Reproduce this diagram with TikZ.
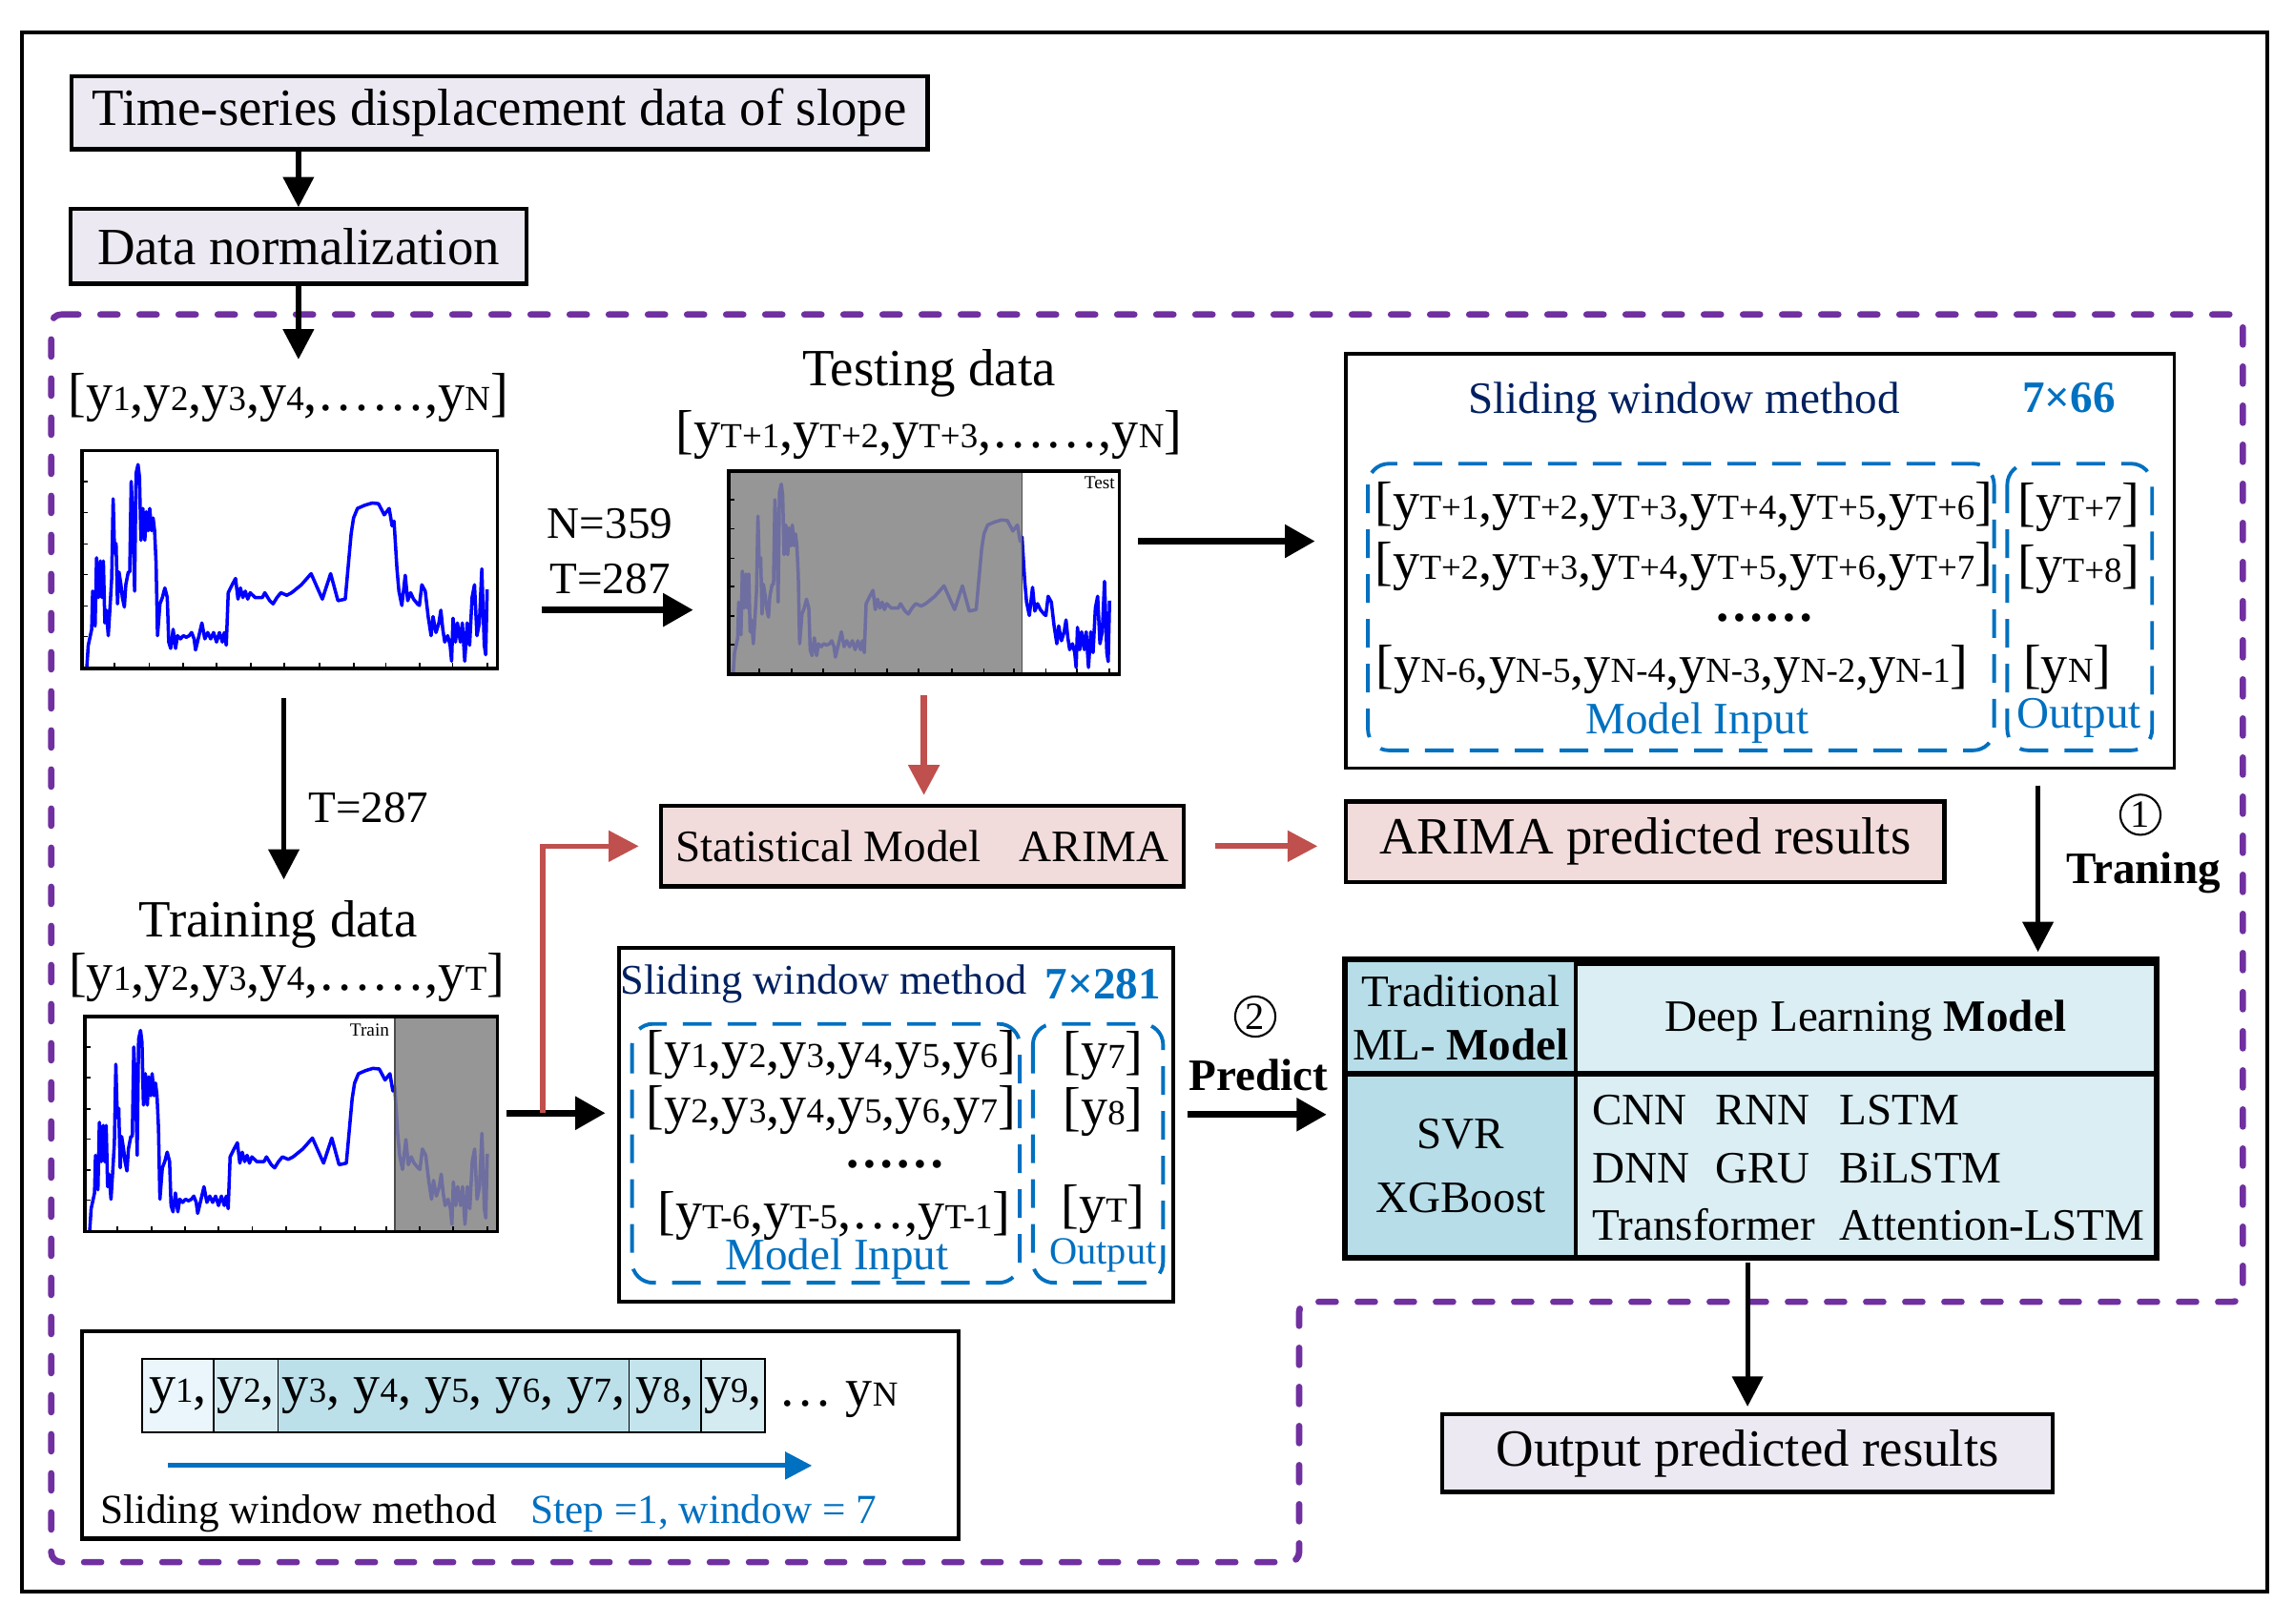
\documentclass[tikz,border=0pt]{standalone}
\usepackage{fontspec}
\setmainfont{Liberation Serif}
\usetikzlibrary{arrows.meta,calc}
\definecolor{lav}{RGB}{236,233,242}
\definecolor{pinkb}{RGB}{242,220,219}
\definecolor{redar}{RGB}{192,80,77}
\definecolor{purp}{RGB}{112,48,160}
\definecolor{blu}{RGB}{0,112,192}
\definecolor{navy}{RGB}{0,32,96}
\definecolor{tabL}{RGB}{183,221,232}
\definecolor{tabR}{RGB}{218,238,243}
\definecolor{cA}{RGB}{234,246,252}
\definecolor{cB}{RGB}{213,235,242}
\definecolor{cC}{RGB}{188,224,234}
\definecolor{cD}{RGB}{195,228,236}
\definecolor{grayfill}{RGB}{150,150,150}
\definecolor{grayline}{RGB}{110,110,160}
\definecolor{plotblue}{RGB}{0,0,255}
\newcommand\fA{\fontsize{15.6}{18}\selectfont}
\newcommand\fB{\fontsize{13.4}{16}\selectfont}
\newcommand\fC{\fontsize{12.3}{14}\selectfont}
\newcommand\fS{\fontsize{16}{18}\selectfont}
\newcommand\ys[1]{y{\fontsize{10.5}{12}\selectfont #1}}
\newcommand\pxu{0.15338mm}
\newcommand\dispcurve{(180,900) -- (183,830) -- (190,780) -- (192,660) -- (197,770) -- (200,555) -- (204,680) -- (208,565) -- (211,680) -- (214,565) -- (217,760) -- (220,720) -- (224,800) -- (228,700) -- (231,620) -- (234,370) -- (237,540) -- (240,510) -- (243,700) -- (246,600) -- (250,640) -- (253,680) -- (257,710) -- (260,640) -- (265,600) -- (268,600) -- (271,315) -- (275,450) -- (278,660) -- (281,290) -- (285,262) -- (288,300) -- (291,500) -- (295,400) -- (299,500) -- (302,410) -- (306,470) -- (309,400) -- (313,470) -- (316,430) -- (319,470) -- (322,570) -- (325,800) -- (330,700) -- (335,680) -- (340,650) -- (345,680) -- (348,820) -- (352,840) -- (357,780) -- (362,840) -- (366,800) -- (372,810) -- (378,800) -- (384,805) -- (390,800) -- (395,790) -- (400,810) -- (403,845) -- (410,800) -- (416,760) -- (422,810) -- (428,790) -- (434,810) -- (440,790) -- (446,820) -- (452,790) -- (458,820) -- (462,790) -- (466,830) -- (470,665) -- (478,640) -- (485,620) -- (490,685) -- (495,650) -- (500,680) -- (505,660) -- (510,685) -- (515,665) -- (525,680) -- (540,680) -- (545,665) -- (555,690) -- (562,700) -- (570,680) -- (578,665) -- (590,673) -- (600,665) -- (620,640) -- (640,605) -- (650,640) -- (663,685) -- (680,605) -- (695,690) -- (710,685) -- (717,565) -- (722,480) -- (727,430) -- (735,400) -- (750,390) -- (765,383) -- (778,385) -- (790,420) -- (800,400) -- (806,455) -- (810,440) -- (816,590) -- (820,660) -- (826,705) -- (833,610) -- (838,690) -- (844,665) -- (850,685) -- (858,700) -- (862,705) -- (867,640) -- (874,660) -- (880,740) -- (886,800) -- (890,740) -- (896,790) -- (902,760) -- (906,720) -- (910,780) -- (914,820) -- (920,800) -- (925,830) -- (928,880) -- (931,745) -- (936,820) -- (940,760) -- (946,820) -- (950,760) -- (955,880) -- (960,760) -- (965,830) -- (970,680) -- (975,640) -- (980,800) -- (985,760) -- (990,590) -- (995,830) -- (998,860) -- (1001,655)}
\newcommand\dispticks{%
  \foreach \t in {315,413,512,608,707,803} \draw[line width=0.5pt] (170,\t) -- (182,\t);
  \foreach \t in {237,308,377,446,516,585,657,727,793,862,930,1001} \draw[line width=0.5pt] (\t,903) -- (\t,885);}
\begin{document}
\begin{tikzpicture}[x=\pxu, y=-\pxu,
  sz/.style 2 args={minimum width=#1*\pxu, minimum height=#2*\pxu},
  box/.style={draw, line width=1.2pt, inner sep=0pt, font=\fA},
  lavbox/.style={box, fill=lav},
  pinkbox/.style={box, fill=pinkb},
  frm/.style={draw, line width=1pt, inner sep=0pt},
  lbl/.style={inner sep=0pt, font=\fA},
  seq/.style={inner sep=0pt, font=\fS},
  dots/.style={inner sep=0pt, font=\fontsize{15}{15}\selectfont\bfseries, text height=3pt, text depth=0pt},
  sub/.style={inner sep=0pt, font=\fB},
  ttl/.style={inner sep=0pt, font=\fB, text=navy},
  dim/.style={inner sep=0pt, font=\fB\bfseries, text=blu},
  arr/.style={line width=1.5pt, -{Triangle[length=9pt,width=9pt]}},
  arrthick/.style={line width=2.1pt, -{Triangle[length=9pt,width=9.5pt]}},
  redarr/.style={draw=redar, line width=1.8pt, -{Triangle[length=9pt,width=9pt]}},
  bluarr/.style={draw=blu, line width=1.4pt, -{Triangle[length=8pt,width=8pt]}},
  purpdash/.style={draw=purp, line width=1.9pt, line cap=round, dash pattern=on 1.8mm off 2.3mm},
  bdash/.style={draw=blu, line width=1.1pt, dash pattern=on 3mm off 1.7mm, rounded corners=2.2mm},
  curve/.style={line width=1pt, line join=round},
  cell/.style={draw, line width=0.5pt, inner sep=0pt, font=\fS, minimum height=50*\pxu},
  tcell/.style={draw, line width=1pt, inner sep=0pt, font=\fB, align=center},
  circ/.style={circle, draw, line width=0.6pt, minimum size=12pt, inner sep=0pt, font=\fontsize{11.5}{12}\selectfont}
]
\useasboundingbox (0,0) rectangle (1568,1109.7);
% outer frame
\draw[line width=1.1pt] (15,22) rectangle (1550,1088);
% purple dashed region
\draw[purpdash, rounded corners=3pt] (35,215) -- (1533,215) -- (1533,890) -- (888,890) -- (888,1068) -- (35,1068) -- cycle;

% top boxes
\node[lavbox, sz={585}{50}] (ts) at (341.5,77) {Time-series displacement data of slope};
\node[lavbox, sz={312}{51}] (dn) at (204,168.5) {Data normalization};
\node[seq] (seqN) at (197,272) {[\ys1,\ys2,\ys3,\ys4,……,\ys{N}]};

% plot 1
\begin{scope}[shift={(56,308)}, xscale=284/852, yscale=149/685, shift={(-170,-218)}]
  \draw[curve, plotblue] \dispcurve;
  \dispticks
\end{scope}
\node[frm, sz={284}{149}] (p1) at (198,382.5) {};

% plot 2 (test)
\begin{scope}[shift={(498,322)}, xscale=267/852, yscale=139/685, shift={(-170,-218)}]
  \fill[grayfill] (170,218) rectangle (810,903);
  \begin{scope}\clip (170,218) rectangle (810,903); \draw[curve, grayline] \dispcurve; \end{scope}
  \begin{scope}\clip (810,218) rectangle (1022,903); \draw[curve, plotblue] \dispcurve; \end{scope}
  \draw[line width=0.5pt, black!70] (810,218) -- (810,903);
  \dispticks
  \node[anchor=north east, inner sep=0pt, font=\fontsize{5.5}{6}\selectfont] (testlbl) at (1014,236) {Test};
\end{scope}
\node[frm, sz={267}{139}] (p2) at (631.5,391.5) {};

% plot 3 (train)
\begin{scope}[shift={(58,695)}, xscale=282/852, yscale=147/685, shift={(-170,-218)}]
  \fill[grayfill] (810,218) rectangle (1022,903);
  \begin{scope}\clip (810,218) rectangle (1022,903); \draw[curve, grayline] \dispcurve; \end{scope}
  \begin{scope}\clip (170,218) rectangle (810,903); \draw[curve, plotblue] \dispcurve; \end{scope}
  \draw[line width=0.5pt, black!70] (810,218) -- (810,903);
  \dispticks
  \node[anchor=north east, inner sep=0pt, font=\fontsize{5.5}{6}\selectfont] (trainlbl) at (800,240) {Train};
\end{scope}
\node[frm, sz={282}{147}] (p3) at (199,768.5) {};

% labels
\node[sub] (nlbl) at (417,358) {N=359};
\node[sub] (tlbl) at (417,396) {T=287};
\node[lbl] (testdata) at (635,255) {Testing data};
\node[seq] (seqT) at (635,297) {[\ys{T+1},\ys{T+2},\ys{T+3},……,\ys{N}]};
\node[sub] (t2lbl) at (252,552) {T=287};
\node[lbl] (traindata) at (190,632) {Training data};
\node[seq] (seqTr) at (196,668) {[\ys1,\ys2,\ys3,\ys4,……,\ys{T}]};

% sliding window box 1
\node[frm, sz={566}{283}] (sw1) at (1203,383.5) {};
\node[ttl] (ttl1) at (1151,275) {Sliding window method};
\node[dim] (dim1) at (1414,272) {7×66};
\draw[bdash] (935,317) rectangle (1363,513);
\draw[bdash] (1372,317) rectangle (1471,513);
\node[seq] (r1a) at (1151,346) {[\ys{T+1},\ys{T+2},\ys{T+3},\ys{T+4},\ys{T+5},\ys{T+6}]};
\node[seq] (r1b) at (1151,387) {[\ys{T+2},\ys{T+3},\ys{T+4},\ys{T+5},\ys{T+6},\ys{T+7}]};
\node[dots] (r1c) at (1206,421) {……};
\node[seq] (r1d) at (1143,458) {[\ys{N-6},\ys{N-5},\ys{N-4},\ys{N-3},\ys{N-2},\ys{N-1}]};
\node[sub, text=blu] (mi1) at (1160,494) {Model Input};
\node[seq] (o1a) at (1421,347) {[\ys{T+7}]};
\node[seq] (o1b) at (1421,389) {[\ys{T+8}]};
\node[seq] (o1d) at (1413,458) {[\ys{N}]};
\node[sub, text=blu] (oo1) at (1421,491) {Output};

% statistical model and ARIMA
\node[pinkbox, sz={357}{55}, font=\fB] (stat) at (630.5,578.5) {Statistical Model\hspace{0.85em}ARIMA};
\node[pinkbox, sz={409}{55}] (arima) at (1124.5,575.5) {ARIMA predicted results};

% sliding window box 2
\node[frm, sz={379}{242}] (sw2) at (612.5,769) {};
\node[ttl, font=\fontsize{12.6}{15}\selectfont] (ttl2) at (563,673) {Sliding window method};
\node[dim] (dim2) at (754,673) {7×281};
\draw[bdash] (432,700) rectangle (697,877);
\draw[bdash] (706,700) rectangle (795,877);
\node[seq] (r2a) at (568,721) {[\ys1,\ys2,\ys3,\ys4,\ys5,\ys6]};
\node[seq] (r2b) at (568,759) {[\ys2,\ys3,\ys4,\ys5,\ys6,\ys7]};
\node[dots] (r2c) at (612,795) {……};
\node[seq] (r2d) at (570,831) {[\ys{T-6},\ys{T-5},…,\ys{T-1}]};
\node[sub, text=blu] (mi2) at (572,861) {Model Input};
\node[seq] (o2a) at (754,722) {[\ys7]};
\node[seq] (o2b) at (754,760) {[\ys8]};
\node[seq] (o2d) at (754,827) {[\ys{T}]};
\node[inner sep=0pt, font=\fontsize{11.5}{13}\selectfont, text=blu] (oo2) at (754,858) {Output};

% model table
\node[tcell, fill=tabL, sz={157}{78}, font=\fontsize{13.4}{16}\selectfont] (tl) at (998.5,696) {Traditional\\ML- \textbf{Model}};
\node[tcell, fill=tabR, sz={396}{78}] (tr) at (1275,698) {Deep Learning \textbf{Model}};
\node[tcell, fill=tabL, sz={157}{124}, font=\fontsize{13.4}{19}\selectfont] (bl) at (998.5,797) {SVR\\XGBoost};
\node[tcell, fill=tabR, sz={396}{124}] (br) at (1275,797) {};
\node[anchor=west, inner sep=0pt, align=left, font=\fontsize{13.4}{17.2}\selectfont] (brtxt) at (1088,798.5)
  {\makebox[12.88mm][l]{CNN}\makebox[13.04mm][l]{RNN}LSTM\\
   \makebox[12.88mm][l]{DNN}\makebox[13.04mm][l]{GRU}BiLSTM\\
   \makebox[25.92mm][l]{Transformer}Attention-LSTM};
\draw[line width=1.5pt] (tl.north west) rectangle (br.south east);
\draw[line width=1.5pt] (bl.north west) -- (br.north east);

% output
\node[lavbox, sz={417}{53}] (out) at (1194.5,993.5) {Output predicted results};

% step labels
\node[circ] (c1) at (1463,557) {1};
\node[inner sep=0pt, font=\fB\bfseries] (traning) at (1465,597) {Traning};
\node[circ] (c2) at (858,695) {2};
\node[inner sep=0pt, font=\fB\bfseries] (predict) at (860,735) {Predict};

% bottom-left sliding window illustration
\node[frm, line width=1.2pt, sz={599}{142}] (sb) at (355.5,981) {};
\node[cell, fill=cA, minimum width=49*\pxu] (k1) at (121.5,954) {\ys1,};
\node[cell, fill=cB, minimum width=44*\pxu] (k2) at (168,954) {\ys2,};
\node[cell, fill=cC, minimum width=240*\pxu] (k3) at (310,954) {\ys3, \ys4, \ys5, \ys6, \ys7,};
\node[cell, fill=cD, minimum width=49*\pxu] (k4) at (454.5,954) {\ys8,};
\node[cell, fill=cB, minimum width=44*\pxu] (k5) at (501,954) {\ys9,};
\node[seq] (kN) at (573,957) {… \ys{N}};
\coordinate (s1) at (115,1002);
\coordinate (s2) at (555,1002);
\draw[bluarr] (s1) -- (s2);
\node[inner sep=0pt, font=\fC] (swm) at (204,1035) {Sliding window method};
\node[inner sep=0pt, font=\fC, text=blu] (stepw) at (481,1035) {Step =1, window = 7};

% connectors
\draw[arr] (ts.south -| dn.north) -- (dn.north);
\draw[arr, shorten >=4pt] (dn.south) -- (dn.south |- seqN.north);
\coordinate (nA) at (370,417);
\draw[arrthick, shorten >=23*\pxu] (nA) -- (nA -| p2.west);
\coordinate (bA) at (778,370);
\draw[arrthick, shorten >=20*\pxu] (bA) -- (bA -| sw1.west);
\draw[redarr, shorten <=13*\pxu, shorten >=6*\pxu] (p2.south) -- (p2.south |- stat.north);
\draw[redarr, shorten <=20*\pxu, shorten >=18*\pxu] (stat.east) -- (stat.east -| arima.west);
\coordinate (trA) at (1393,537);
\draw[arr, shorten >=7*\pxu] (trA) -- (trA |- tr.north);
\coordinate (tA) at (194,477);
\draw[arr, shorten >=14*\pxu] (tA) -- (tA |- traindata.north);
\coordinate (cA) at (346,761);
\draw[arrthick, shorten >=8*\pxu] (cA) -- (cA -| sw2.west);
\coordinate (rA) at (371,761);
\draw[redarr, line width=1.6pt, shorten >=14*\pxu] (rA) |- (stat.west);
\coordinate (dA) at (812,762);
\draw[arrthick, shorten >=12*\pxu] (dA) -- (dA -| bl.west);
\draw[arr, shorten <=3*\pxu, shorten >=4*\pxu] (out.north |- br.south) -- (out.north);
\end{tikzpicture}
\end{document}
